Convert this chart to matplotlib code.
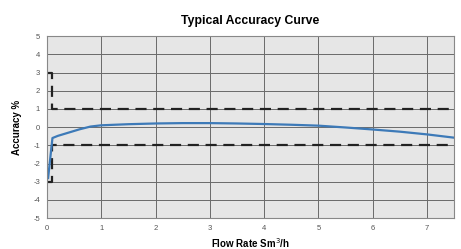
import matplotlib
matplotlib.use("Agg")
import matplotlib.pyplot as plt

plt.rcParams['font.family'] = ['Liberation Sans', 'DejaVu Sans']
plt.rcParams['axes.unicode_minus'] = False

# accuracy curve
flow = [0.02, 0.1, 0.2, 0.4, 0.6, 0.8, 1.0, 1.5, 2.0, 2.5, 3.0, 3.5, 4.0, 4.5, 5.0, 5.5, 6.0, 6.5, 7.0, 7.5]
acc = [-2.8, -0.6, -0.48, -0.3, -0.12, 0.03, 0.1, 0.16, 0.2, 0.22, 0.22, 0.2, 0.17, 0.13, 0.08, -0.02, -0.13, -0.25, -0.4, -0.58]

# accuracy limits (dashed)
upper_x = [0.0, 0.1, 0.1, 7.5]
upper_y = [3, 3, 1, 1]
lower_x = [0.0, 0.1, 0.1, 7.5]
lower_y = [-3, -3, -1, -1]

xticks = [0, 1, 2, 3, 4, 5, 6, 7]
yticks = [5, 4, 3, 2, 1, 0, -1, -2, -3, -4, -5]

fig = plt.figure(figsize=(4.61, 2.49), dpi=100)
ax = fig.add_axes([0.102, 0.124, 0.883, 0.731])
ax.set_facecolor('#e6e6e6')

ax.plot(upper_x, upper_y, color='#222222', lw=1.6, dashes=(5, 3))
ax.plot(lower_x, lower_y, color='#222222', lw=1.6, dashes=(5, 3))
ax.plot(flow, acc, color='#3d7ab8', lw=1.6)

ax.set_xlim(0, 7.5)
ax.set_ylim(-5, 5)
ax.set_xticks(xticks)
ax.set_yticks(yticks)
ax.grid(True, color='#6a6a6a', lw=0.7)
ax.set_axisbelow(True)
ax.tick_params(labelsize=5.5, colors='#555555', length=0, pad=5)
for s in ax.spines.values():
    s.set_color('#888888')
    s.set_linewidth(0.8)

ax.set_title('Typical Accuracy Curve', fontsize=8.8, fontweight='bold', pad=9)
ax.set_xlabel('Flow Rate Sm$^3$/h', fontsize=7, fontweight='bold', labelpad=3)
ax.set_ylabel('Accuracy %', fontsize=7, fontweight='bold', labelpad=8)

fig.savefig('out.png', dpi=100)
